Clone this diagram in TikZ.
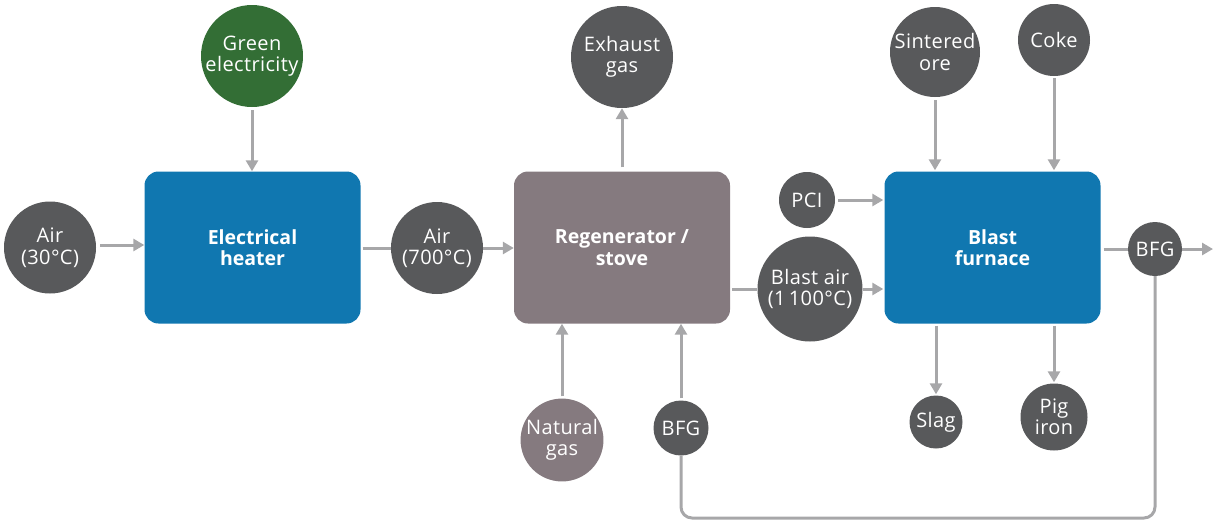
\documentclass[tikz,border=0pt]{standalone}
\usepackage{fontspec}
\setmainfont{Open Sans}
\newfontfamily\disctext[LetterSpace=2]{Open Sans}
\usetikzlibrary{arrows.meta}
\definecolor{darkdisc}{HTML}{58595B}
\definecolor{greendisc}{HTML}{336E35}
\definecolor{bluebox}{HTML}{1077B0}
\definecolor{stovebox}{HTML}{857A7F}
\definecolor{flowgrey}{HTML}{A7A7A9}
\tikzset{
  disc/.style={circle, fill=darkdisc, text=white, inner sep=0pt, align=center,
    font=\disctext\fontsize{20}{21.5}\selectfont, minimum size=#1},
  disc/.default=92pt,
  unit/.style={rounded corners=14pt, fill=#1, text=white, align=center,
    minimum width=216pt, minimum height=152pt, inner sep=0pt,
    font=\fontsize{19.5}{21.5}\selectfont\bfseries},
  flow/.style={draw=flowgrey, line width=3pt, -{Triangle[length=11pt,width=12pt]}},
  pipe/.style={draw=flowgrey, line width=3pt},
}
\begin{document}
\begin{tikzpicture}[x=1pt,y=-1pt]
\useasboundingbox (0,0) rectangle (1213,520);

% process units
\node[unit=bluebox] (heater) at (252.5,247.5) {Electrical\\heater};
\node[unit=stovebox] (stove) at (622,247.5) {Regenerator /\\stove};
\node[unit=bluebox] (furnace) at (992.5,247.5) {Blast\\furnace};

% material and energy streams
\node[disc=92pt] (air30) at (50,247.5) {Air\\(30°C)};
\node[disc=102pt, fill=greendisc] (green) at (252,56) {Green\\electricity};
\node[disc=92pt] (air700) at (437,248) {Air\\(700°C)};
\node[disc=102pt] (exhaust) at (622,57) {Exhaust\\gas};
\node[disc=80pt, fill=stovebox] (natgas) at (562,440) {Natural\\gas};
\node[disc=55pt] (bfglow) at (681,428) {BFG};
\node[disc=105pt] (blastair) at (810,289) {Blast air\\(1\,100°C)};
\node[disc=56pt] (pci) at (807,200) {PCI};
\node[disc=90pt] (sinter) at (935,52) {Sintered\\ore};
\node[disc=72pt] (coke) at (1054,40) {Coke};
\node[disc=53pt] (slag) at (936,422) {Slag};
\node[disc=67pt] (pig) at (1054,417) {Pig\\iron};
\node[disc=54pt] (bfgout) at (1155,249) {BFG};
\coordinate (outend) at (1213,249);

% electrical heater
\draw[flow, shorten <=4pt] (air30.east |- 0,245) -- (heater.west |- 0,245);
\draw[flow, shorten <=3pt] (green.south) -- (heater.north -| green.south);
\draw[pipe] (heater.east |- air700.west) ++(2,0) -- (air700.west);
\draw[flow] (air700.east) -- (stove.west |- air700.east);

% regenerator / stove
\draw[flow, shorten <=4pt] (stove.north) -- (exhaust.south);
\draw[flow, shorten <=2pt] (natgas.north) -- (stove.south -| natgas.north);
\draw[flow, shorten <=2pt] (bfglow.north) -- (stove.south -| bfglow.north);
\draw[pipe] (stove.east |- blastair.west) ++(2,0) -- (blastair.west);
\draw[flow, shorten >=1pt] (blastair.east) -- (furnace.west |- blastair.east);

% blast furnace
\draw[flow, shorten <=3pt, shorten >=1pt] (pci.east) -- (furnace.west |- pci.east);
\draw[flow, shorten <=3pt, shorten >=1pt] (sinter.south) -- (furnace.north -| sinter.south);
\draw[flow, shorten <=2pt, shorten >=1pt] (coke.south) -- (furnace.north -| coke.south);
\draw[flow, shorten <=2pt, shorten >=1pt] (furnace.south -| slag.north) -- (slag.north);
\draw[flow, shorten <=2pt, shorten >=1pt] (furnace.south -| pig.north) -- (pig.north);
\draw[pipe] (furnace.east |- bfgout.west) ++(3,0) -- (bfgout.west);
\draw[flow] (bfgout.east) -- (outend);

% gas recycle loop back to the stove
\draw[pipe, rounded corners=11pt] (bfgout.south) -- (bfgout.south |- 0,518)
  -- (bfglow.south |- 0,518) -- (bfglow.south);
\end{tikzpicture}
\end{document}
